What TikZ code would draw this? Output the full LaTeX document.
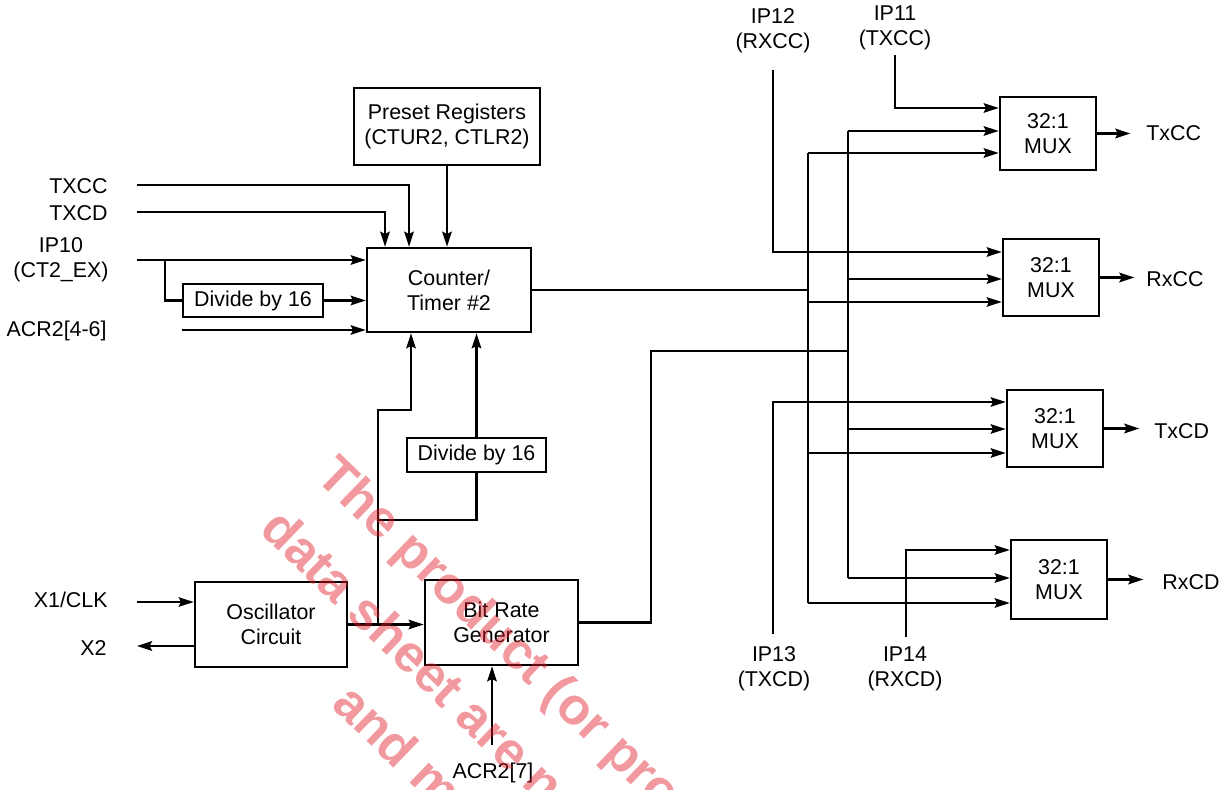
\documentclass[tikz,border=0pt]{standalone}
\usepackage{fontspec}
\setmainfont{Liberation Sans}
\usetikzlibrary{arrows.meta}
\newcommand\dgfont{\fontsize{10.7}{12.6}\selectfont}
\newcommand\wmfont{\fontsize{26}{28}\selectfont\bfseries}
\definecolor{wmred}{RGB}{225,30,40}
\begin{document}
\begin{tikzpicture}[x=0.5pt,y=-0.5pt,
  wire/.style={line width=1.15pt},
  arr/.style={wire,-{Stealth[length=7.5pt,width=4.8pt,inset=1.2pt]}},
  box/.style={draw,line width=1.35pt,inner sep=0pt,align=center,font=\dgfont},
  lbl/.style={inner sep=0pt,align=center,font=\dgfont},
  wm/.style={inner sep=0pt,font=\wmfont,text=wmred,text opacity=0.45,rotate=-44,anchor=base west}]
\useasboundingbox (0,0) rectangle (1220,790);
\fill[white] (0,0) rectangle (1220,790);

% boxes
\node[box,minimum width=93pt,minimum height=38.5pt] (preset) at (447,126.5) {Preset Registers\\(CTUR2, CTLR2)};
\node[box,minimum width=82pt,minimum height=42pt] (counter) at (449,290) {Counter/\\Timer \#2};
\node[box,minimum width=70pt,minimum height=16.5pt] (div1) at (253,300.5) {Divide by 16};
\node[box,minimum width=69.5pt,minimum height=17pt] (div2) at (476.5,455) {Divide by 16};
\node[box,minimum width=76pt,minimum height=42.5pt] (osc) at (271,624.5) {Oscillator\\Circuit};
\node[box,minimum width=76.5pt,minimum height=42.5pt] (brg) at (501.5,622.5) {Bit Rate\\Generator};
\node[box,minimum width=48pt,minimum height=36.5pt] (mux1) at (1048,133.5) {32:1\\MUX};
\node[box,minimum width=48pt,minimum height=38.5pt] (mux2) at (1051,277.5) {32:1\\MUX};
\node[box,minimum width=48pt,minimum height=38.5pt] (mux3) at (1055,428.5) {32:1\\MUX};
\node[box,minimum width=48pt,minimum height=39.5pt] (mux4) at (1059,579.5) {32:1\\MUX};

% labels
\node[lbl,anchor=east] (lTXCC) at (108,186) {TXCC};
\node[lbl,anchor=east] (lTXCD) at (108,213) {TXCD};
\node[lbl] (lIP10) at (61,260) {IP10\\(CT2\_EX)};
\node[lbl,anchor=east] (lACR46) at (107,331) {ACR2[4-6]};
\node[lbl,anchor=east] (lX1) at (108,600) {X1/CLK};
\node[lbl,anchor=east] (lX2) at (107,648) {X2};
\node[lbl] (lACR7) at (493,773) {ACR2[7]};
\node[lbl] (lIP12) at (773,30.5) {IP12\\(RXCC)};
\node[lbl] (lIP11) at (895,27.5) {IP11\\(TXCC)};
\node[lbl] (lIP13) at (774,669) {IP13\\(TXCD)};
\node[lbl] (lIP14) at (905,669) {IP14\\(RXCD)};
\node[lbl,anchor=west] (lTxCC) at (1146,133) {TxCC};
\node[lbl,anchor=west] (lRxCC) at (1146,279) {RxCC};
\node[lbl,anchor=west] (lTxCD) at (1154,431) {TxCD};
\node[lbl,anchor=west] (lRxCD) at (1162,582) {RxCD};

% counter inputs
\coordinate (txccS) at (137,185);
\coordinate (txcdS) at (137,212);
\coordinate (ip10S) at (137,260);
\coordinate (ip10B) at (165,260);
\coordinate (acrS) at (182,330);
\draw[arr] (txccS) -| ([xshift=-20pt]counter.north);
\draw[arr] (txcdS) -| ([xshift=-32pt]counter.north);
\draw[arr] (preset.south) -- (preset.south |- counter.north);
\draw[arr] (ip10S) -- (ip10S -| counter.west);
\draw[wire] (ip10B) |- (div1.west);
\draw[arr] (div1.east) -- (div1.east -| counter.west);
\draw[arr] (acrS) -- (acrS -| counter.west);

% oscillator / bit rate
\coordinate (oscJ) at (378,624.5);
\coordinate (upA) at (411,410);
\coordinate (dvJ) at (476.5,520);
\coordinate (x1S) at (137,602);
\coordinate (x2E) at (137,646);
\coordinate (acr7S) at (492,745);
\draw[arr] (osc.east) -- (osc.east -| brg.west);
\draw[arr] (oscJ) |- (upA) -- (upA |- counter.south);
\draw[wire] (oscJ |- dvJ) -- (dvJ) -- (div2.south);
\draw[arr] (div2.north) -- (div2.north |- counter.south);
\draw[arr] (x1S) -- (x1S -| osc.west);
\draw[arr] (x2E -| osc.west) -- (x2E);
\draw[arr] (acr7S) -- (acr7S |- brg.south);

% buses
\coordinate (aT) at (808,153);
\coordinate (a2) at (808,302);
\coordinate (a3) at (808,453);
\coordinate (aB) at (808,603);
\coordinate (bT) at (848,131);
\coordinate (b2) at (848,279);
\coordinate (b3) at (848,429);
\coordinate (bB) at (848,578);
\coordinate (brgK) at (651,351);
\draw[wire] (aT) -- (aB);
\draw[wire] (bT) -- (bB);
\draw[wire] (counter.east) -- (counter.east -| aT);
\draw[wire] (brg.east) -| (brgK) -- (brgK -| bT);
\draw[arr] (aT) -- (aT -| mux1.west);
\draw[arr] (a2) -- (a2 -| mux2.west);
\draw[arr] (a3) -- (a3 -| mux3.west);
\draw[arr] (aB) -- (aB -| mux4.west);
\draw[arr] (bT) -- (bT -| mux1.west);
\draw[arr] (b2) -- (b2 -| mux2.west);
\draw[arr] (b3) -- (b3 -| mux3.west);
\draw[arr] (bB) -- (bB -| mux4.west);

% IP inputs to muxes
\coordinate (ip11S) at (895,55);  \coordinate (ip11K) at (895,108);
\coordinate (ip12S) at (773,70);  \coordinate (ip12K) at (773,252);
\coordinate (ip13S) at (773,634); \coordinate (ip13K) at (773,402);
\coordinate (ip14S) at (906,637); \coordinate (ip14K) at (906,550);
\draw[arr] (ip11S) -- (ip11K) -- (ip11K -| mux1.west);
\draw[arr] (ip12S) -- (ip12K) -- (ip12K -| mux2.west);
\draw[arr] (ip13S) -- (ip13K) -- (ip13K -| mux3.west);
\draw[arr] (ip14S) -- (ip14K) -- (ip14K -| mux4.west);

% mux outputs
\draw[arr] (mux1.east) -- ++(33,0);
\draw[arr] (mux2.east) -- ++(34,0);
\draw[arr] (mux3.east) -- ++(35,0);
\draw[arr] (mux4.east) -- ++(35,0);

% watermark
\begin{scope}
\clip (0,0) rectangle (1220,790);
\node[wm] (wm1) at (314,478) {The product (or prod};
\node[wm] (wm2) at (258,531) {data sheet are no};
\node[wm] (wm3) at (330,706) {and ma};
\end{scope}
\end{tikzpicture}
\end{document}
